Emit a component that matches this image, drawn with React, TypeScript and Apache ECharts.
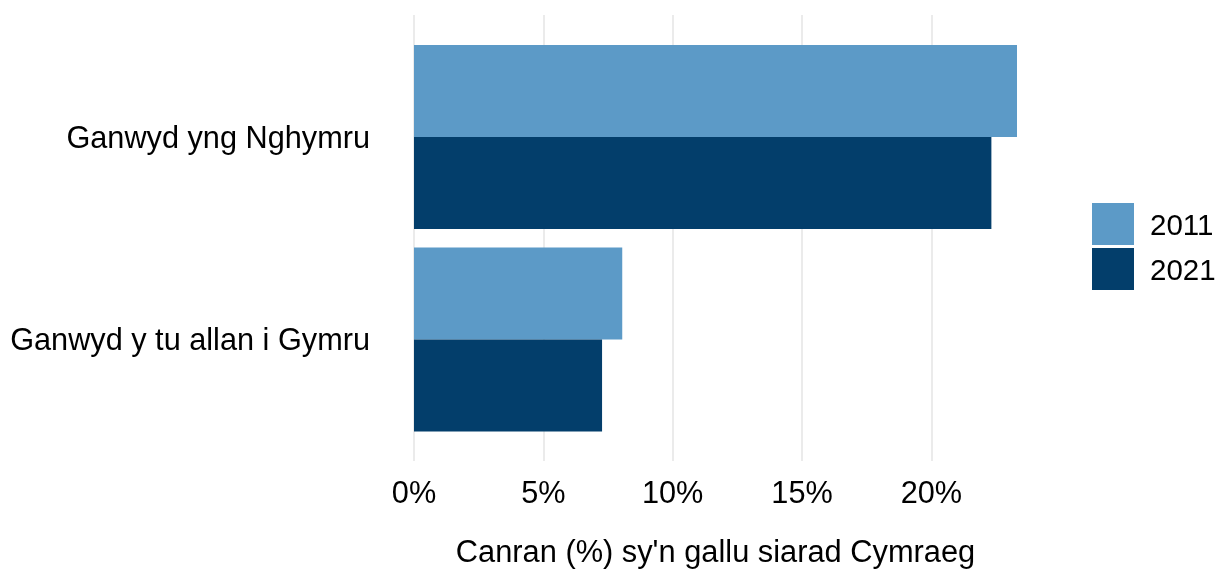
import React, { useEffect, useRef } from "react";
import * as echarts from "echarts";

const categories = ["Ganwyd yng Nghymru", "Ganwyd y tu allan i Gymru"];
const seriesNames = ["2011", "2021"];
const values2011 = [23.31, 8.05];
const values2021 = [22.32, 7.27];
const tickValues = [0, 5, 10, 15, 20];
const axisTitle = "Canran (%) sy'n gallu siarad Cymraeg";

const FONT = "'Liberation Sans', Arial, Helvetica, sans-serif";
const FS = 30.7;
const COLORS = ["#5c9ac7", "#033e6b"];

export default function App() {
  const ref = useRef<HTMLDivElement>(null);
  useEffect(() => {
    if (!ref.current) return;
    const chart = echarts.init(ref.current, null, { renderer: "svg" });
    const maxVal = Math.max(...values2011, ...values2021);
    const left = 414;
    const width = 603;
    chart.setOption({
      animation: false,
      textStyle: { fontFamily: FONT },
      color: COLORS,
      legend: {
        data: seriesNames,
        orient: "vertical",
        left: 1092,
        top: 203,
        padding: 0,
        itemWidth: 42,
        itemHeight: 42,
        itemGap: 3,
        icon: "rect",
        textStyle: { fontSize: 29.5, color: "#000", fontFamily: FONT, padding: [0, 0, 0, 11] },
      },
      grid: [
        { left, width, top: 15, height: 446, outerBoundsMode: "none", containLabel: false },
        { left, width, top: 35.75, height: 405, outerBoundsMode: "none", containLabel: false },
      ],
      xAxis: [
        {
          type: "value",
          gridIndex: 0,
          position: "bottom",
          min: 0,
          max: maxVal,
          axisLine: { show: false, onZero: false },
          axisTick: { show: false, customValues: tickValues },
          axisLabel: {
            customValues: tickValues,
            formatter: "{value}%",
            fontSize: FS,
            color: "#000",
            fontFamily: FONT,
            margin: 16,
          },
          splitLine: { show: true, lineStyle: { color: "#ebebeb", width: 2 } },
          name: axisTitle,
          nameLocation: "middle",
          nameGap: 75,
          nameTextStyle: { fontSize: 30.8, color: "#000", fontFamily: FONT },
        },
        {
          type: "value",
          gridIndex: 1,
          min: 0,
          max: maxVal,
          show: false,
          splitLine: { show: false },
        },
      ],
      yAxis: [
        { type: "value", gridIndex: 0, min: 0, max: 1, show: false, splitLine: { show: false } },
        {
          type: "category",
          gridIndex: 1,
          inverse: true,
          data: categories,
          axisLine: { show: false },
          axisTick: { show: false },
          splitLine: { show: false },
          axisLabel: { fontSize: FS, color: "#000", fontFamily: FONT, margin: 44 },
        },
      ],
      series: [
        {
          name: seriesNames[0],
          type: "bar",
          xAxisIndex: 1,
          yAxisIndex: 1,
          data: values2011,
          barGap: "0%",
          barCategoryGap: "9.1%",
          itemStyle: { color: COLORS[0] },
        },
        {
          name: seriesNames[1],
          type: "bar",
          xAxisIndex: 1,
          yAxisIndex: 1,
          data: values2021,
          barGap: "0%",
          barCategoryGap: "9.1%",
          itemStyle: { color: COLORS[1] },
        },
      ],
    });
    return () => chart.dispose();
  }, []);
  return (
    <div
      ref={ref}
      style={{ position: "fixed", left: 0, top: 0, width: 1216, height: 569 }}
    />
  );
}
